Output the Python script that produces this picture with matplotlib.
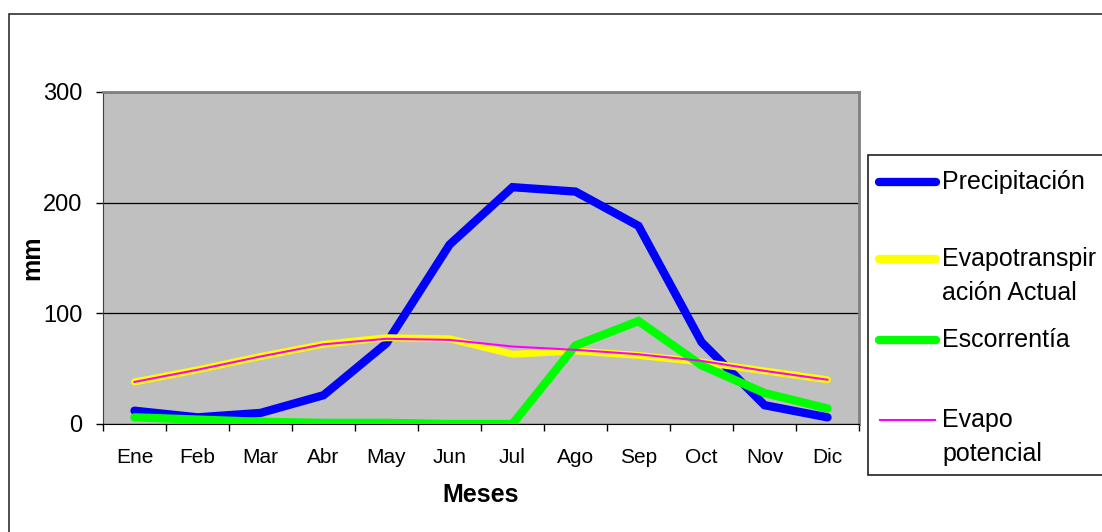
import matplotlib.pyplot as plt
from matplotlib.lines import Line2D
from matplotlib.patches import Rectangle

plt.rcParams['font.family'] = ['Liberation Sans', 'DejaVu Sans']

# monthly water balance (mm)
meses = ["Ene", "Feb", "Mar", "Abr", "May", "Jun", "Jul", "Ago", "Sep", "Oct", "Nov", "Dic"]
precipitacion = [12, 6, 10, 26, 73, 162, 214, 210, 179, 74, 17, 6]
evapo_actual = [38, 49, 61, 72, 78, 77, 63, 66, 62, 56, 48, 40]
escorrentia = [6, 4, 2, 1, 1, 0, 0, 71, 93, 53, 28, 14]
evapo_potencial = [38, 49, 61, 72, 77, 76, 70, 67, 63, 57, 48, 40]

W, H = 1102, 532
fig = plt.figure(figsize=(W / 100, H / 100), dpi=100)
ax = fig.add_axes([103 / W, 1 - 424 / H, (859 - 103) / W, (424 - 92) / H])
ax.set_facecolor("#C0C0C0")

x = range(len(meses))
ax.plot(x, precipitacion, color="#0000FF", lw=6, solid_capstyle="round", solid_joinstyle="miter", zorder=3)
ax.plot(x, evapo_actual, color="#FFFF00", lw=5, solid_capstyle="round", solid_joinstyle="miter", zorder=4)
ax.plot(x, escorrentia, color="#00FF00", lw=6, solid_capstyle="round", solid_joinstyle="miter", zorder=5)
ax.plot(x, evapo_potencial, color="#FF00FF", lw=1.5, zorder=6)

ax.set_xlim(-0.5, len(meses) - 0.5)
ax.set_ylim(0, 300)
ax.set_yticks([0, 100, 200, 300])
ax.grid(axis="y", color="black", lw=0.9, zorder=1)
ax.set_axisbelow(True)

ax.set_xticks(list(x))
ax.set_xticklabels(meses, fontsize=15)
ax.set_xticks([i - 0.5 for i in range(len(meses) + 1)], minor=True)
ax.tick_params(axis="x", which="major", length=0, pad=17)
ax.tick_params(axis="x", which="minor", length=5, width=1, direction="out")
ax.tick_params(axis="y", labelsize=17, length=5, width=1, direction="out", pad=10)

for s in ("top", "right"):
    ax.spines[s].set_color("#808080")
    ax.spines[s].set_linewidth(2)
ax.spines["left"].set_color("#404040")
ax.spines["bottom"].set_color("black")

ax.set_xlabel("Meses", fontsize=18, fontweight="bold")
ax.set_ylabel("mm", fontsize=18, fontweight="bold")
ax.xaxis.set_label_coords(0.5, -0.214)
ax.yaxis.set_label_coords(-0.094, 0.5)
ax.xaxis.label.set_va("center")
ax.yaxis.label.set_va("center")

# outer chart border (cropped at right/bottom)
fig.patches.append(Rectangle((9 / W, -0.1), 1.2, 1 - 14 / H + 0.1, transform=fig.transFigure,
                             fill=False, ec="#303030", lw=1.2))

# legend box drawn by hand so the keys align with the first text line
fig.patches.append(Rectangle((868 / W, 1 - 475 / H), 1.2, (475 - 155) / H, transform=fig.transFigure,
                             fill=True, fc="white", ec="#202020", lw=1.2, zorder=2))
entradas = [
    ("Precipitación", "#0000FF", 6, 182),
    ("Evapotranspir\nación Actual", "#FFFF00", 6, 259),
    ("Escorrentía", "#00FF00", 6, 340),
    ("Evapo\npotencial", "#FF00FF", 1.5, 420),
]
for txt, col, lw, ypx in entradas:
    yf = 1 - ypx / H
    cap = "round" if lw > 2 else "butt"
    fig.lines.append(Line2D([879 / W, 936 / W], [yf, yf], transform=fig.transFigure,
                            color=col, lw=lw, solid_capstyle=cap, zorder=3))
    fig.text(942 / W, yf + 12 / H, txt, fontsize=18, va="top", ha="left", linespacing=1.55, zorder=3)

fig.savefig("out.png", dpi=100)
